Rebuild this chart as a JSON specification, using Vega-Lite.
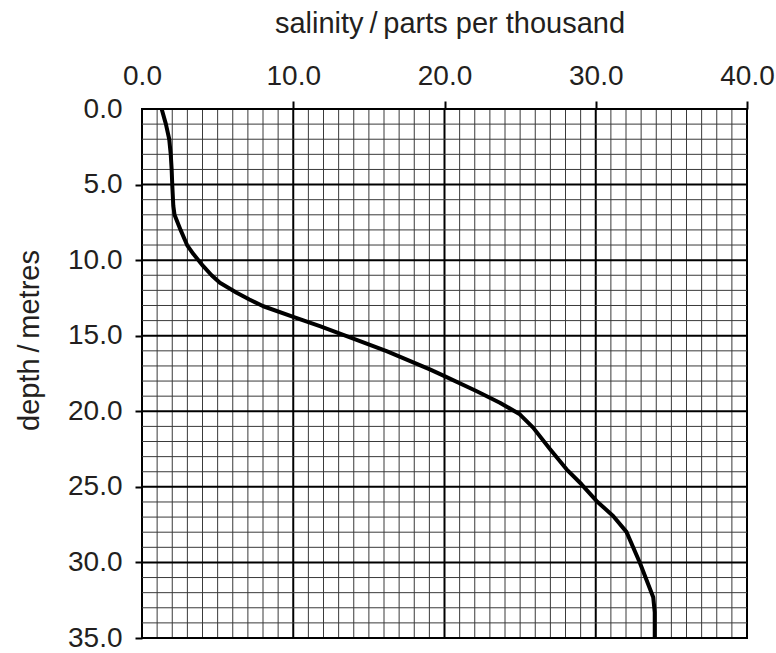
{
  "$schema": "https://vega.github.io/schema/vega-lite/v6.json",
  "width": 605,
  "height": 529,
  "autosize": {"type": "none"},
  "padding": {"left": 142, "top": 109, "right": 29, "bottom": 15},
  "background": "white",
  "config": {
    "view": {"stroke": "black", "strokeWidth": 2},
    "axis": {
      "labelFont": "Liberation Sans",
      "titleFont": "Liberation Sans",
      "labelFontSize": 28,
      "titleFontSize": 29,
      "titleFontWeight": "normal",
      "labelColor": "#231f20",
      "titleColor": "#231f20"
    }
  },
  "datasets": {
    "xgrid": [{"salinity":0},{"salinity":1},{"salinity":2},{"salinity":3},{"salinity":4},{"salinity":5},{"salinity":6},{"salinity":7},{"salinity":8},{"salinity":9},{"salinity":10},{"salinity":11},{"salinity":12},{"salinity":13},{"salinity":14},{"salinity":15},{"salinity":16},{"salinity":17},{"salinity":18},{"salinity":19},{"salinity":20},{"salinity":21},{"salinity":22},{"salinity":23},{"salinity":24},{"salinity":25},{"salinity":26},{"salinity":27},{"salinity":28},{"salinity":29},{"salinity":30},{"salinity":31},{"salinity":32},{"salinity":33},{"salinity":34},{"salinity":35},{"salinity":36},{"salinity":37},{"salinity":38},{"salinity":39},{"salinity":40}],
    "ygrid": [{"depth":0},{"depth":1},{"depth":2},{"depth":3},{"depth":4},{"depth":5},{"depth":6},{"depth":7},{"depth":8},{"depth":9},{"depth":10},{"depth":11},{"depth":12},{"depth":13},{"depth":14},{"depth":15},{"depth":16},{"depth":17},{"depth":18},{"depth":19},{"depth":20},{"depth":21},{"depth":22},{"depth":23},{"depth":24},{"depth":25},{"depth":26},{"depth":27},{"depth":28},{"depth":29},{"depth":30},{"depth":31},{"depth":32},{"depth":33},{"depth":34},{"depth":35}],
    "profile": [
      {"depth": 0, "salinity": 1.3},
      {"depth": 1, "salinity": 1.58},
      {"depth": 2, "salinity": 1.8},
      {"depth": 3, "salinity": 1.9},
      {"depth": 4, "salinity": 1.96},
      {"depth": 5, "salinity": 2.0},
      {"depth": 6.4, "salinity": 2.07},
      {"depth": 7, "salinity": 2.15},
      {"depth": 8, "salinity": 2.55},
      {"depth": 9, "salinity": 2.98},
      {"depth": 9.6, "salinity": 3.4},
      {"depth": 10.4, "salinity": 4.05},
      {"depth": 11.0, "salinity": 4.6},
      {"depth": 11.5, "salinity": 5.15},
      {"depth": 12.16, "salinity": 6.26},
      {"depth": 12.6, "salinity": 7.1},
      {"depth": 13.05, "salinity": 8.02},
      {"depth": 13.75, "salinity": 10.0},
      {"depth": 14.37, "salinity": 11.76},
      {"depth": 15.03, "salinity": 13.53},
      {"depth": 16.02, "salinity": 16.17},
      {"depth": 17.23, "salinity": 19.03},
      {"depth": 17.67, "salinity": 20.0},
      {"depth": 18.66, "salinity": 22.1},
      {"depth": 19.43, "salinity": 23.66},
      {"depth": 20.2, "salinity": 24.98},
      {"depth": 21.08, "salinity": 25.86},
      {"depth": 22.5, "salinity": 26.97},
      {"depth": 23.84, "salinity": 28.07},
      {"depth": 24.83, "salinity": 29.06},
      {"depth": 25.93, "salinity": 30.05},
      {"depth": 26.93, "salinity": 31.15},
      {"depth": 27.98, "salinity": 32.03},
      {"depth": 30.0, "salinity": 32.91},
      {"depth": 32.3, "salinity": 33.8},
      {"depth": 33.3, "salinity": 33.9},
      {"depth": 35, "salinity": 33.9}
    ]
  },
  "layer": [
    {
      "data": {"name": "xgrid"},
      "mark": {"type": "rule"},
      "encoding": {
        "x": {
          "field": "salinity", "type": "quantitative",
          "scale": {"domain": [0, 40], "nice": false, "zero": false},
          "axis": {
            "orient": "top", "values": [0, 10, 20, 30, 40], "format": ".1f",
            "grid": false, "domain": false,
            "ticks": true, "tickSize": 8, "tickColor": "black", "tickWidth": 2,
            "tickOpacity": {"condition": {"test": "datum.value > 0", "value": 1}, "value": 0},
            "labelPadding": 11, "labelFlush": false,
            "title": "salinity\u2009/\u2009parts per thousand",
            "titleX": 307.5, "titleY": -77,
            "titleAlign": "center", "titleBaseline": "alphabetic", "titleAngle": 0
          }
        },
        "color": {"condition": {"test": "datum.salinity % 10 === 0", "value": "black"}, "value": "#3a3a3a"},
        "strokeWidth": {"condition": {"test": "datum.salinity % 10 === 0", "value": 2}, "value": 1}
      }
    },
    {
      "data": {"name": "ygrid"},
      "mark": {"type": "rule"},
      "encoding": {
        "y": {
          "field": "depth", "type": "quantitative",
          "scale": {"domain": [0, 35], "nice": false, "zero": false, "reverse": true},
          "axis": {
            "orient": "left", "values": [0, 5, 10, 15, 20, 25, 30, 35], "format": ".1f",
            "grid": false, "domain": false,
            "ticks": true, "tickSize": 7, "tickColor": "black", "tickWidth": 2,
            "tickOpacity": {"condition": {"test": "datum.value > 0", "value": 1}, "value": 0},
            "labelPadding": 13, "labelFlush": false,
            "title": "depth\u2009/\u2009metres",
            "titleX": -104, "titleY": 231,
            "titleAlign": "center", "titleBaseline": "alphabetic", "titleAngle": -90
          }
        },
        "color": {"condition": {"test": "datum.depth % 5 === 0", "value": "black"}, "value": "#3a3a3a"},
        "strokeWidth": {"condition": {"test": "datum.depth % 5 === 0", "value": 2}, "value": 1}
      }
    },
    {
      "data": {"name": "profile"},
      "mark": {"type": "line", "color": "black", "strokeWidth": 4, "strokeJoin": "round", "strokeCap": "butt"},
      "encoding": {
        "x": {
          "field": "salinity", "type": "quantitative",
          "scale": {"domain": [0, 40], "nice": false, "zero": false},
          "axis": {
            "orient": "top", "values": [0, 10, 20, 30, 40], "format": ".1f",
            "grid": false, "domain": false,
            "ticks": true, "tickSize": 8, "tickColor": "black", "tickWidth": 2,
            "tickOpacity": {"condition": {"test": "datum.value > 0", "value": 1}, "value": 0},
            "labelPadding": 11, "labelFlush": false,
            "title": "salinity\u2009/\u2009parts per thousand",
            "titleX": 307.5, "titleY": -77,
            "titleAlign": "center", "titleBaseline": "alphabetic", "titleAngle": 0
          }
        },
        "y": {
          "field": "depth", "type": "quantitative",
          "scale": {"domain": [0, 35], "nice": false, "zero": false, "reverse": true},
          "axis": {
            "orient": "left", "values": [0, 5, 10, 15, 20, 25, 30, 35], "format": ".1f",
            "grid": false, "domain": false,
            "ticks": true, "tickSize": 7, "tickColor": "black", "tickWidth": 2,
            "tickOpacity": {"condition": {"test": "datum.value > 0", "value": 1}, "value": 0},
            "labelPadding": 13, "labelFlush": false,
            "title": "depth\u2009/\u2009metres",
            "titleX": -104, "titleY": 231,
            "titleAlign": "center", "titleBaseline": "alphabetic", "titleAngle": -90
          }
        },
        "order": {"field": "depth"}
      }
    }
  ]
}
